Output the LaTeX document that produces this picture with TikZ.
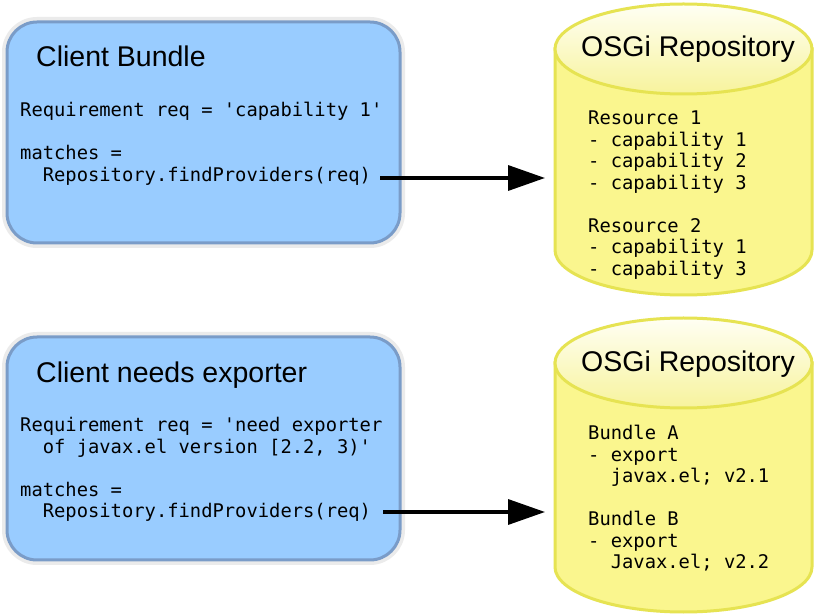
\documentclass[tikz,border=0pt]{standalone}
\usepackage{fontspec}
\setmainfont{Liberation Sans}
\newfontfamily\codefont{DejaVu Sans Mono}
\usetikzlibrary{arrows.meta}
\definecolor{boxfill}{HTML}{99CCFF}
\definecolor{boxline}{HTML}{7A9CC8}
\definecolor{glow}{HTML}{EBEBEB}
\definecolor{cylfill}{HTML}{FAF68E}
\definecolor{cyltop}{HTML}{FFFFF4}
\definecolor{cylbot}{HTML}{F7F39C}
\definecolor{cylline}{HTML}{E6E352}
\newcommand{\q}{\textquotesingle}
\newcommand{\codesetup}{\codefont\fontsize{18.8}{21.5}\selectfont\frenchspacing\spaceskip=0.6021em\relax\xspaceskip=0.6021em\relax}
\tikzset{
  clientbox/.style={draw=boxline, line width=3pt, fill=boxfill, rounded corners=30pt,
    minimum width=393pt, inner sep=0pt, preaction={draw=glow, line width=10pt}},
  titletext/.style={font=\fontsize{28.5}{30}\selectfont, anchor=base west, inner sep=0pt},
  codetext/.style={font=\codesetup, anchor=base west,
    inner sep=0pt, text width=420pt, align=flush left},
  cylbody/.style={fill=cylfill, draw=cylline, line width=3pt},
  cyllid/.style={top color=cyltop, bottom color=cylbot, draw=cylline, line width=3pt},
  flow/.style={line width=3.5pt, -{Triangle[length=37pt, width=25pt]}},
}
\begin{document}
\begin{tikzpicture}[x=1pt, y=1pt]
\useasboundingbox (0,0) rectangle (815,614);
\fill[white] (0,0) rectangle (815,614);

% client boxes
\node[clientbox, minimum height=221pt] (box1) at (203.5,481.5) {};
\node[clientbox, minimum height=223pt] (box2) at (203.5,165.5) {};

\node[titletext] (t1) at (36,547) {Client Bundle};
\node[codetext] (c1) at (20,497) {Requirement req = \q capability 1\q\\[21.5pt]
matches =\\
\phantom{xx}Repository.findProviders(req)};

\node[titletext] (t2) at (36,231) {Client needs exporter};
\node[codetext] (c2) at (20,182) {Requirement req = \q need exporter\\
\phantom{xx}of javax.el version [2.2, 3)\q\\[21.5pt]
matches =\\
\phantom{xx}Repository.findProviders(req)};

% cylinder 1
\path[cylbody] (555,565) -- (555,364) arc[start angle=180, end angle=360, x radius=128.5, y radius=45] -- (812,565) -- cycle;
\path[cyllid] (683.5,565) ellipse[x radius=128.5, y radius=45];
\node[titletext] (r1) at (581,557) {OSGi Repository};
\node[codetext] (d1) at (588,489) {Resource 1\\
- capability 1\\
- capability 2\\
- capability 3\\[21.5pt]
Resource 2\\
- capability 1\\
- capability 3};

% cylinder 2
\path[cylbody] (555,251) -- (555,47) arc[start angle=180, end angle=360, x radius=128.5, y radius=45] -- (812,251) -- cycle;
\path[cyllid] (683.5,251) ellipse[x radius=128.5, y radius=45];
\node[titletext] (r2) at (581,242) {OSGi Repository};
\node[codetext] (d2) at (588,174) {Bundle A\\
- export\\
\phantom{xx}javax.el; v2.1\\[21.5pt]
Bundle B\\
- export\\
\phantom{xx}Javax.el; v2.2};

% arrows
\coordinate (a1s) at (380,436);
\coordinate (a1e) at (545,436);
\coordinate (a2s) at (383,102);
\coordinate (a2e) at (545,102);
\draw[flow] (a1s) -- (a1e);
\draw[flow] (a2s) -- (a2e);
\end{tikzpicture}
\end{document}
